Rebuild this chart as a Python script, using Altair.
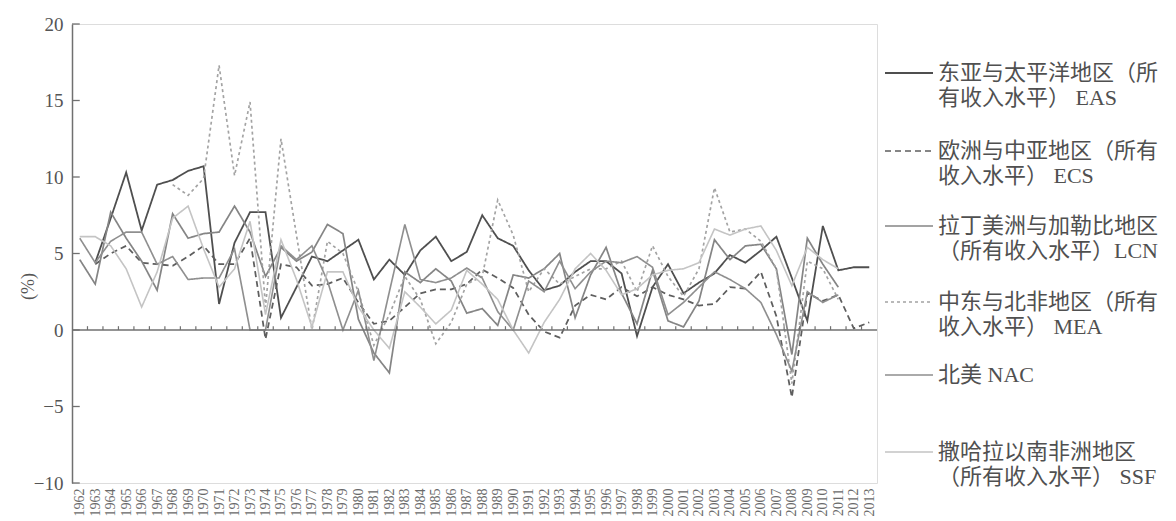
import altair as alt
import pandas as pd

years = list(range(1962, 2014))
N = None

codes = ["EAS", "ECS", "LCN", "MEA", "NAC", "SSF"]

eas = [N, 4.4, 7.3, 10.3, 6.5, 9.5, 9.8, 10.4, 10.7, 1.7,
       5.7, 7.7, 7.7, 0.8, 2.8, 4.8, 4.5, 5.2, 5.9, 3.3,
       4.6, 3.6, 5.2, 6.1, 4.5, 5.1, 7.5, 6.0, 5.5, 3.9,
       2.6, 2.9, 3.8, 4.5, 4.5, 3.7, -0.4, 2.8, 4.3, 2.4,
       3.1, 3.7, 4.9, 4.4, 5.2, 6.1, 3.4, 0.6, 6.8, 3.9,
       4.1, 4.1]
ecs = [N, 4.3, 5.0, 5.5, 4.4, 4.3, 4.2, 4.8, 5.5, 4.3,
       4.3, 6.0, -0.6, 4.3, 4.1, 2.9, 3.0, 3.4, 1.8, 0.4,
       0.6, 1.5, 2.4, 2.65, 2.65, 3.0, 3.95, 3.4, 2.75, 1.0,
       -0.1, -0.5, 1.6, 2.3, 2.0, 2.8, 2.2, 2.8, 2.3, 2.0,
       1.6, 1.7, 2.8, 2.7, 3.8, 0.9, -4.4, 2.4, 1.9, 2.3,
       0.1, 0.5]
lcn = [4.6, 3.0, 7.7, 6.0, 4.5, 2.6, 7.6, 6.0, 6.3, 6.4,
       8.1, 6.4, 3.5, 5.4, 4.5, 5.1, 6.9, 6.3, 0.7, -1.5,
       -2.8, 3.8, 3.1, 4.0, 3.2, 1.1, 1.4, 0.3, 3.6, 3.4,
       4.0, 5.0, 0.8, 3.6, 5.4, 2.4, 0.4, 3.9, 0.6, 0.2,
       1.9, 5.9, 4.6, 5.5, 5.6, 4.0, -1.6, 6.0, 4.3, 2.8,
       N, N]
mea = [N, N, N, N, N, N, 9.5, 8.8, 9.9, 17.3,
       10.1, 14.9, 1.5, 12.5, 6.2, 0.0, 5.8, 5.0, 2.5, -1.0,
       1.0, 3.5, 2.0, -0.9, 0.5, 3.0, 3.5, 8.5, 6.2, 2.5,
       4.0, 3.0, 3.5, 4.0, 4.0, 4.5, 2.5, 5.5, 3.5, 2.2,
       4.0, 9.3, 6.4, 6.6, 5.8, 4.0, -3.5, 4.5, 4.0, 2.0,
       N, N]
nac = [6.0, 4.4, 5.8, 6.4, 6.4, 4.3, 4.8, 3.3, 3.4, 3.4,
       5.3, 0.0, 0.0, 5.5, 4.6, 5.5, 3.2, 0.0, 2.6, -2.0,
       2.5, 6.9, 3.3, 3.1, 3.4, 4.05, 3.4, 1.2, 0.0, 3.2,
       2.5, 4.5, 2.7, 3.8, 4.5, 4.4, 4.8, 4.1, 1.0, 1.8,
       2.8, 3.8, 3.3, 2.7, 1.8, -0.3, -2.7, 2.5, 1.8, 2.3,
       N, N]
ssf = [6.1, 6.1, 5.5, 4.0, 1.5, 3.8, 7.3, 8.1, 5.3, 2.8,
       4.0, 7.1, 1.0, 5.9, 3.3, 0.2, 3.8, 3.8, 1.5, 0.0,
       -1.2, 2.5, 1.5, 0.4, 1.3, 3.9, 3.0, 2.0, 0.0, -1.5,
       0.5, 2.0, 4.0, 5.0, 3.9, 2.3, 2.7, 3.6, 3.9, 4.0,
       4.4, 6.6, 6.2, 6.6, 6.8, 5.2, 2.9, 5.4, 4.6, 4.0,
       N, N]

legend_lines = {
    "EAS": ["东亚与太平洋地区（所", "有收入水平） EAS"],
    "ECS": ["欧洲与中亚地区（所有", "收入水平） ECS"],
    "LCN": ["拉丁美洲与加勒比地区", "（所有收入水平）LCN"],
    "MEA": ["中东与北非地区（所有", "收入水平） MEA"],
    "NAC": ["北美 NAC"],
    "SSF": ["撒哈拉以南非洲地区", "（所有收入水平） SSF"],
}

y_ticks = [-10, -5, 0, 5, 10, 15, 20]

rows = []
for code, vals in zip(codes, [eas, ecs, lcn, mea, nac, ssf]):
    assert len(vals) == len(years), code
    for yr, v in zip(years, vals):
        if v is not None:
            rows.append({"year": yr, "value": v, "series": code})
df = pd.DataFrame(rows)

colors = ["#4f4f4f", "#5e5e5e", "#858585", "#a3a3a3", "#8f8f8f", "#c4c4c4"]
dashes = [[1, 0], [6, 4], [1, 0], [3, 3], [1, 0], [1, 0]]
widths = [1.8, 1.6, 1.5, 1.4, 1.5, 1.6]

SERIF = "Liberation Serif"
CJK = "Liberation Serif, Noto Sans CJK SC"

xscale = alt.Scale(domain=[1961.5, 2013.5], nice=False, zero=False)
yscale = alt.Scale(domain=[-10, 20], nice=False, zero=False)

x_axis = alt.Axis(values=years, format="d", labelAngle=270, ticks=False,
                  domain=False, grid=False, labelFont=SERIF, labelFontSize=14,
                  labelColor="#6a6a6a", labelPadding=5, labelOverlap=False,
                  labelBound=False, labelFlush=False, title=None)
y_axis = alt.Axis(values=y_ticks, ticks=False, grid=False,
                  domainColor="#707070", domainWidth=1.5,
                  labelFont=SERIF, labelFontSize=19, labelColor="#555555",
                  labelPadding=9, title="(%)", titleAngle=270,
                  titleX=-44, titleY=262, titleFontSize=18, titleFont=SERIF,
                  titleFontWeight="normal", titleColor="#555555",
                  titleAlign="center", titleBaseline="middle")


def X(field):
    return alt.X(field, scale=xscale, axis=x_axis)


def Y(field):
    return alt.Y(field, scale=yscale, axis=y_axis)


lines = alt.Chart(df).mark_line(clip=False).encode(
    x=X("year:Q"),
    y=Y("value:Q"),
    color=alt.Color("series:N", scale=alt.Scale(domain=codes, range=colors), legend=None),
    strokeDash=alt.StrokeDash("series:N", scale=alt.Scale(domain=codes, range=dashes), legend=None),
    strokeWidth=alt.StrokeWidth("series:N", scale=alt.Scale(domain=codes, range=widths), legend=None),
)

zero_df = pd.DataFrame({"year": [1961.5], "x2": [2013.5], "value": [0]})
zero_line = alt.Chart(zero_df).mark_rule(color="#707070", strokeWidth=1.5).encode(
    x=X("year:Q"), x2="x2:Q", y=Y("value:Q"))

xt_df = pd.DataFrame({"year": [yr + 0.5 for yr in years[:-1]], "value": 0.0, "y2": 0.25})
x_ticks = alt.Chart(xt_df).mark_rule(color="#707070", strokeWidth=1.2).encode(
    x=X("year:Q"), y=Y("value:Q"), y2="y2:Q")

yt_df = pd.DataFrame({"value": y_ticks, "year": 1961.5, "x2": 1962.0})
y_tick_marks = alt.Chart(yt_df).mark_rule(color="#707070", strokeWidth=1.3).encode(
    x=X("year:Q"), x2="x2:Q", y=Y("value:Q"))

one = pd.DataFrame({"k": [0]})
legend_layers = []
leg_y = [49, 127, 202, 278, 351, 428]
for i, code in enumerate(codes):
    yc = leg_y[i]
    legend_layers.append(
        alt.Chart(one).mark_rule(color=colors[i], strokeWidth=widths[i],
                                 strokeDash=dashes[i]).encode(
            x=alt.value(813), x2=alt.value(861), y=alt.value(yc)))
    for j, txt in enumerate(legend_lines[code]):
        legend_layers.append(
            alt.Chart(one).mark_text(text=txt, align="left", baseline="middle",
                                     font=CJK, fontSize=22, color="#505050").encode(
                x=alt.value(866), y=alt.value(yc + j * 24.5)))

chart = alt.layer(lines, zero_line, x_ticks, y_tick_marks, *legend_layers).properties(
    width=805, height=459,
    autosize=alt.AutoSizeParams(type="none"),
    padding={"left": 64, "top": 16, "right": 291, "bottom": 38},
).configure_view(stroke=None).configure(background="white")

chart.save("out.html", embed_options={"renderer": "svg", "actions": False})
